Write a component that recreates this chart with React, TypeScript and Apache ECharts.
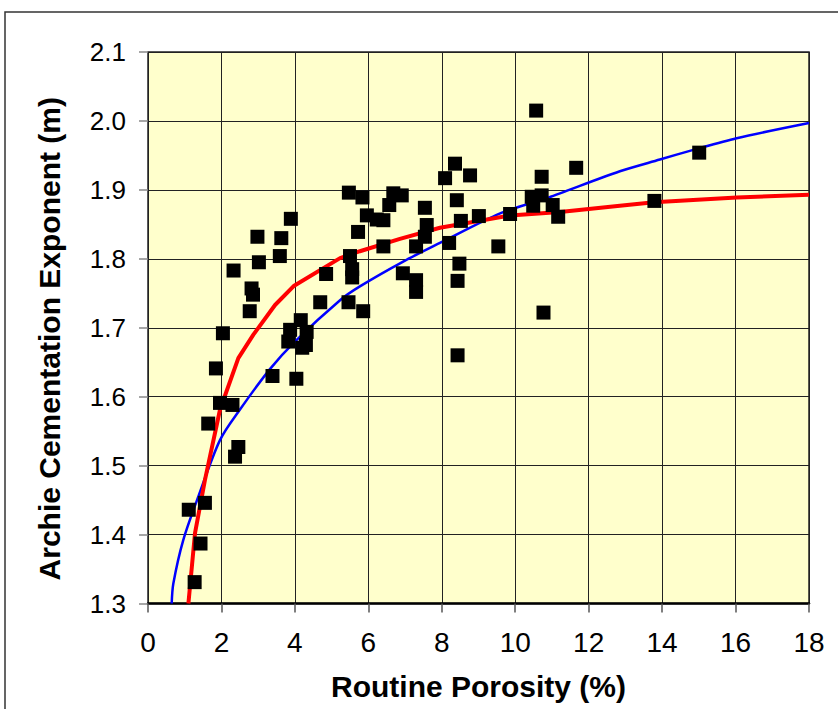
import React, { useEffect, useRef } from "react";
import * as echarts from "echarts";

// Measured porosity (%) and Archie cementation exponent (m)
const porosity = [
  1.11, 1.27, 1.43, 1.55, 1.64, 1.85, 1.96, 2.04, 2.3, 2.37, 2.46, 2.33, 2.77, 2.82, 2.86, 2.98, 3.02,
  3.39, 3.59, 3.63, 3.82, 3.87, 3.89, 4.04, 4.16, 4.2, 4.3, 4.32, 4.69, 4.85, 5.46, 5.47, 5.5, 5.56,
  5.56, 5.72, 5.84, 5.86, 5.96, 6.23, 6.41, 6.41, 6.57, 6.68, 6.91, 6.94, 7.3, 7.3, 7.3, 7.54, 7.59,
  7.54, 8.09, 8.2, 8.36, 8.41, 8.43, 8.43, 8.48, 8.52, 8.77, 9.01, 9.54, 9.86, 10.45, 10.49, 10.57,
  10.72, 10.72, 10.77, 11.02, 11.17, 11.66, 13.79, 15.01,
];
const cementation = [
  1.436, 1.331, 1.387, 1.446, 1.561, 1.641, 1.591, 1.692, 1.588, 1.513, 1.527, 1.783, 1.724, 1.757,
  1.748, 1.832, 1.795, 1.63, 1.804, 1.83, 1.68, 1.697, 1.858, 1.626, 1.711, 1.671, 1.675, 1.694,
  1.737, 1.778, 1.737, 1.896, 1.804, 1.785, 1.773, 1.839, 1.889, 1.724, 1.863, 1.857, 1.856, 1.818,
  1.878, 1.895, 1.892, 1.779, 1.769, 1.752, 1.818, 1.874, 1.849, 1.832, 1.917, 1.823, 1.938, 1.885,
  1.768, 1.66, 1.793, 1.855, 1.921, 1.862, 1.818, 1.865, 1.89, 1.877, 2.015, 1.892, 1.919, 1.722,
  1.878, 1.861, 1.932, 1.884, 1.954,
];

// Red fit curve
const redX = [1.1, 1.28, 1.55, 1.96, 2.46, 2.87, 3.46, 3.98, 5.23, 5.77, 6.86, 7.95, 9.86, 11.22, 12.85, 13.78, 16.03, 18];
const redY = [1.3, 1.402, 1.479, 1.581, 1.656, 1.69, 1.733, 1.761, 1.801, 1.811, 1.829, 1.845, 1.863, 1.868, 1.877, 1.882, 1.889, 1.893];

// Blue fit curve
const blueX = [0.645, 0.69, 0.96, 1.37, 1.96, 2.5, 3.32, 4.0, 5.23, 5.77, 6.95, 7.95, 9.59, 10.86, 11.22, 12.85, 13.94, 14.85, 16.03, 18];
const blueY = [1.3, 1.329, 1.392, 1.455, 1.537, 1.581, 1.64, 1.68, 1.74, 1.76, 1.796, 1.823, 1.866, 1.888, 1.895, 1.927, 1.944, 1.958, 1.975, 1.997];

const xTicks = { min: 0, max: 18, interval: 2 };
const yTicks = { min: 1.3, max: 2.1, interval: 0.1 };

const FONT = 'Arial, "Liberation Sans", sans-serif';

export default function App() {
  const ref = useRef<HTMLDivElement>(null);
  useEffect(() => {
    if (!ref.current) return;
    const chart = echarts.init(ref.current, undefined, { renderer: "svg" });
    const zip = (xs: number[], ys: number[]) => xs.map((x, i) => [x, ys[i]]);
    chart.setOption({
      animation: false,
      backgroundColor: "#ffffff",
      graphic: [
        {
          type: "rect",
          shape: { x: 5, y: 12, width: 900, height: 800 },
          style: { fill: "none", stroke: "#333", lineWidth: 1.5 },
          silent: true,
        },
      ],
      grid: {
        left: 148,
        top: 52,
        right: 29,
        bottom: 105.5,
        show: true,
        backgroundColor: "#FFFFCC",
        borderColor: "#222",
        borderWidth: 1.5,
        outerBoundsMode: "none",
      },
      xAxis: {
        type: "value",
        min: xTicks.min,
        max: xTicks.max,
        interval: xTicks.interval,
        name: "Routine Porosity (%)",
        nameLocation: "middle",
        nameGap: 68,
        nameTextStyle: { fontFamily: FONT, fontWeight: "bold", fontSize: 30, color: "#000" },
        axisLine: { show: true, lineStyle: { color: "#000", width: 2.5 } },
        axisTick: { show: true, inside: false, length: 9, lineStyle: { color: "#555", width: 1.5 } },
        axisLabel: { fontFamily: FONT, fontSize: 28, color: "#000", margin: 25 },
        splitLine: { show: true, lineStyle: { color: "#222", width: 1 } },
      },
      yAxis: {
        type: "value",
        min: yTicks.min,
        max: yTicks.max,
        interval: yTicks.interval,
        name: "Archie Cementation Exponent (m)",
        nameLocation: "middle",
        nameGap: 84,
        nameRotate: 90,
        nameTextStyle: {
          fontFamily: FONT,
          fontWeight: "bold",
          fontSize: 30,
          color: "#000",
          padding: [0, 22, 0, 0],
        },
        axisLine: { show: false },
        axisTick: { show: true, inside: false, length: 9, lineStyle: { color: "#888", width: 1.5 } },
        axisLabel: {
          fontFamily: FONT,
          fontSize: 26,
          color: "#000",
          margin: 22,
          formatter: (v: number) => v.toFixed(1),
        },
        splitLine: { show: true, lineStyle: { color: "#222", width: 1 } },
      },
      series: [
        {
          type: "line",
          data: zip(blueX, blueY),
          smooth: 0.3,
          showSymbol: false,
          lineStyle: { color: "#0000FF", width: 2.5 },
          z: 2,
        },
        {
          type: "line",
          data: zip(redX, redY),
          smooth: false,
          showSymbol: false,
          lineStyle: { color: "#FF0000", width: 4 },
          z: 3,
        },
        {
          type: "scatter",
          data: zip(porosity, cementation),
          symbol: "rect",
          symbolSize: 14,
          itemStyle: { color: "#000", opacity: 1 },
          z: 5,
        },
      ],
    });
    return () => chart.dispose();
  }, []);
  return (
    <div
      ref={ref}
      style={{ position: "fixed", left: 0, top: 0, width: 838, height: 709 }}
    />
  );
}
